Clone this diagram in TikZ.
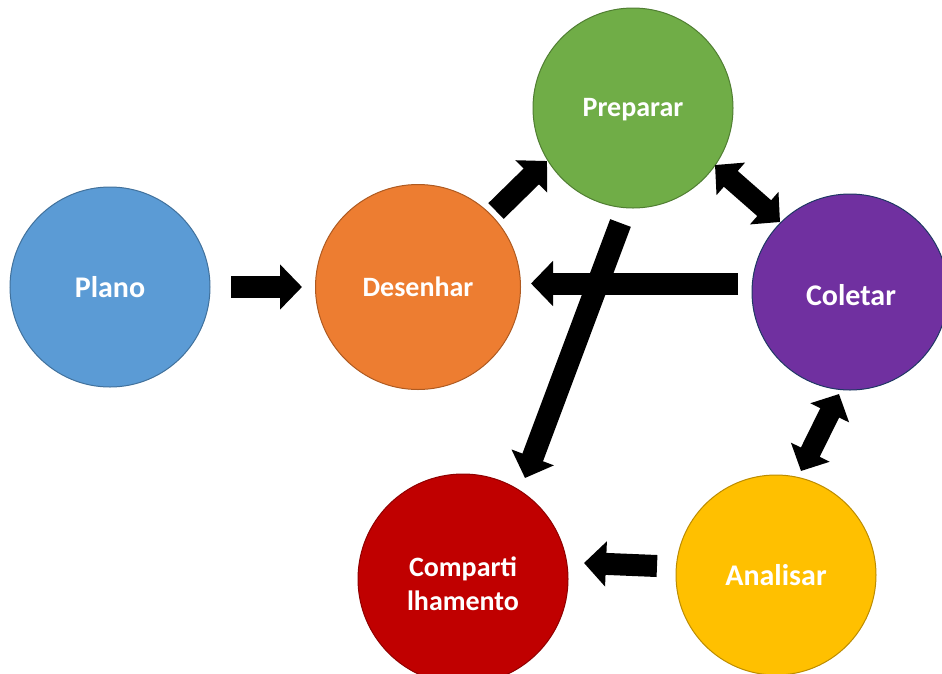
\documentclass[tikz,border=0pt]{standalone}
\usepackage{fontspec}
\setmainfont{Carlito}
\usetikzlibrary{arrows.meta}
\definecolor{planofill}{HTML}{5B9BD5}\definecolor{planoline}{HTML}{41719C}
\definecolor{desfill}{HTML}{ED7D31}\definecolor{desline}{HTML}{AE5A21}
\definecolor{prepfill}{HTML}{70AD47}\definecolor{prepline}{HTML}{507E32}
\definecolor{colfill}{HTML}{7030A0}\definecolor{colline}{HTML}{1F3864}
\definecolor{anafill}{HTML}{FFC000}\definecolor{analine}{HTML}{BC8C00}
\definecolor{compfill}{HTML}{C00000}\definecolor{compline}{HTML}{8F0000}
\begin{document}
\begin{tikzpicture}[x=1pt,y=-1pt,
  circ/.style={circle, inner sep=0pt, line width=1pt, text=white, align=center},
  small/.style={font=\bfseries\fontsize{28}{34}\selectfont},
  big/.style={font=\bfseries\fontsize{30}{36}\selectfont},
  blk/.style={line width=22pt, black, -{Triangle[length=22pt,width=44pt]}},
  dbl/.style={line width=21pt, black, {Triangle[length=21pt,width=42pt]}-{Triangle[length=21pt,width=42pt]}}]
\useasboundingbox (0,0) rectangle (942,673);
% circles
\node[circ, big, minimum size=200pt, fill=planofill, draw=planoline] (plano) at (110,287) {Plano};
\node[circ, small, minimum size=205pt, fill=desfill, draw=desline] (des) at (418,287) {Desenhar};
\node[circ, minimum size=200pt, fill=prepfill, draw=prepline] (prep) at (633,108) {};
\node[small, text=white] (preptxt) at (633,110) {Preparar};
\node[circ, minimum size=196pt, fill=colfill, draw=colline] (col) at (850,292) {};
\node[big, text=white] (coltxt) at (851,295) {Coletar};
\node[circ, big, minimum size=200pt, fill=anafill, draw=analine] (ana) at (776,575) {Analisar};
\node[circ, minimum size=210pt, fill=compfill, draw=compline] (comp) at (463,579) {};
\node[small, text=white, align=center] (comptxt) at (463,584) {Comparti\\lhamento};
% arrow ends
\coordinate (a1s) at (231,287); \coordinate (a1e) at (302,287);
\coordinate (a2s) at (496,211); \coordinate (a2e) at (547,161);
\coordinate (a3s) at (715,165); \coordinate (a3e) at (780,222);
\coordinate (a4s) at (738,283.5); \coordinate (a4e) at (531,283.5);
\coordinate (a5s) at (620.5,223); \coordinate (a5e) at (525,478);
\coordinate (a6s) at (839,394); \coordinate (a6e) at (801,471);
\coordinate (a7s) at (657,566); \coordinate (a7e) at (584,563);
% arrows
\draw[blk] (a1s) -- (a1e);
\draw[blk] (a2s) -- (a2e);
\draw[dbl] (a3s) -- (a3e);
\draw[blk] (a4s) -- (a4e);
\draw[blk] (a5s) -- (a5e);
\draw[dbl] (a6s) -- (a6e);
\draw[blk] (a7s) -- (a7e);
\end{tikzpicture}
\end{document}
